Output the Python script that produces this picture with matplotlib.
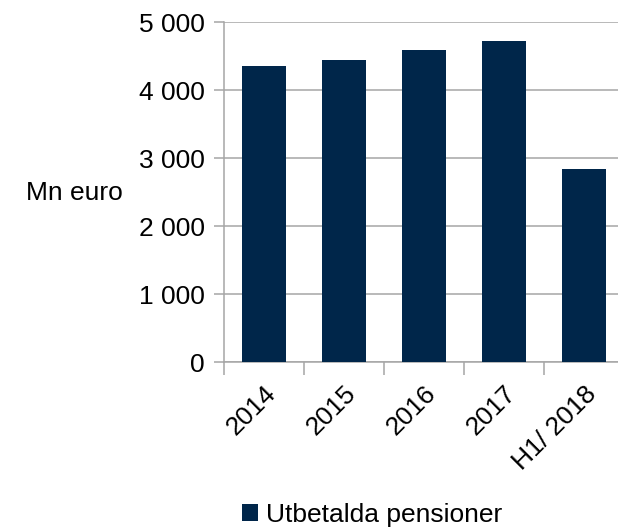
import matplotlib
matplotlib.use("Agg")
import matplotlib.pyplot as plt
import numpy as np

# Data
categories = ["2014", "2015", "2016", "2017", "H1/ 2018"]
pensions = [4350, 4445, 4595, 4725, 2840]
series_name = "Utbetalda pensioner"
y_ticks = [0, 1000, 2000, 3000, 4000, 5000]

bar_color = "#00264a"
axis_gray = "#a6a6a6"

plt.rcParams["font.family"] = ["Liberation Sans", "DejaVu Sans"]
fs = 19

fig = plt.figure(figsize=(6.18, 5.29), dpi=100)
ax = fig.add_axes([224 / 618, 167 / 529, 400 / 618, 340 / 529])

x = np.arange(len(categories))
ax.bar(x, pensions, width=0.56, color=bar_color, label=series_name, zorder=3)

ax.set_xlim(-0.5, len(categories) - 0.5)
ax.set_ylim(0, 5000)

# y axis
ax.set_yticks(y_ticks)
ax.set_yticklabels([f"{v:,}".replace(",", " ") for v in y_ticks], fontsize=fs)
ax.grid(axis="y", color=axis_gray, linewidth=1.1, zorder=0)
ax.tick_params(axis="y", length=7, width=1.1, color=axis_gray, pad=7)

# x axis: tick marks between categories, labels at centres
ax.set_xticks(np.arange(-0.5, len(categories) - 0.5, 1.0))
ax.set_xticklabels([])
ax.set_xticks(x, minor=True)
ax.set_xticklabels(categories, minor=True, fontsize=fs, rotation=45,
                   ha="right", va="top", rotation_mode="anchor")
ax.tick_params(axis="x", which="major", length=9, width=1.1, color=axis_gray)
ax.tick_params(axis="x", which="minor", length=0, pad=14)

for side in ["top", "right"]:
    ax.spines[side].set_visible(False)
ax.spines["left"].set_color(axis_gray)
ax.spines["left"].set_linewidth(1.1)
ax.spines["bottom"].set_color(axis_gray)
ax.spines["bottom"].set_linewidth(1.1)

fig.text(26 / 618, 1 - 193 / 529, "Mn euro", fontsize=fs, ha="left", va="center")

fig.legend(loc="center", bbox_to_anchor=(372 / 618, 14 / 529), frameon=False,
           fontsize=fs, handlelength=0.6, handleheight=0.6, handletextpad=0.3)

plt.savefig("out.png", dpi=100)
